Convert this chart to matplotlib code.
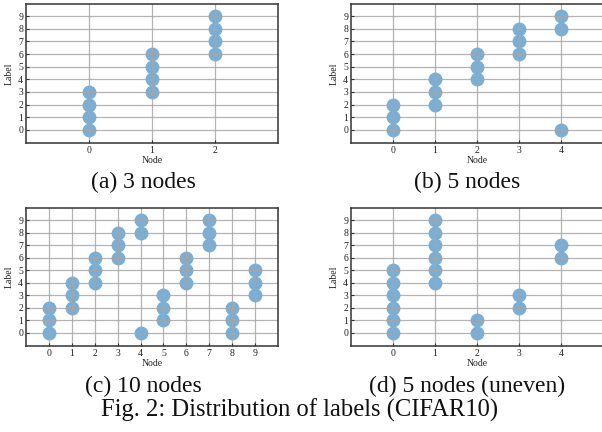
import matplotlib
matplotlib.use("Agg")
import matplotlib.pyplot as plt

plt.rcParams['font.family'] = ['Liberation Serif', 'DejaVu Serif']

# Data: node index -> list of labels held by that node
nodes_a = [0, 1, 2]
labels_a = [[0, 1, 2, 3], [3, 4, 5, 6], [6, 7, 8, 9]]

nodes_b = [0, 1, 2, 3, 4]
labels_b = [[0, 1, 2], [2, 3, 4], [4, 5, 6], [6, 7, 8], [8, 9, 0]]

nodes_c = [0, 1, 2, 3, 4, 5, 6, 7, 8, 9]
labels_c = [[0, 1, 2], [2, 3, 4], [4, 5, 6], [6, 7, 8], [8, 9, 0],
            [1, 2, 3], [4, 5, 6], [7, 8, 9], [0, 1, 2], [3, 4, 5]]

nodes_d = [0, 1, 2, 3, 4]
labels_d = [[0, 1, 2, 3, 4, 5], [4, 5, 6, 7, 8, 9], [0, 1], [2, 3], [6, 7]]

label_ticks = list(range(10))
captions = ["(a) 3 nodes", "(b) 5 nodes", "(c) 10 nodes", "(d) 5 nodes (uneven)"]
fig_title = "Fig. 2: Distribution of labels (CIFAR10)"

W, H = 602, 432
fig = plt.figure(figsize=(W / 100, H / 100), dpi=100)


def fx(px):
    return px / W


def fy(py):
    return 1 - py / H


boxes = [
    (26, 278, 4, 143),
    (351, 603, 4, 143),
    (26, 278, 208, 346),
    (351, 603, 208, 346),
]
datasets = [(nodes_a, labels_a), (nodes_b, labels_b), (nodes_c, labels_c), (nodes_d, labels_d)]

for (l, r, t, b), (nodes, labels) in zip(boxes, datasets):
    ax = fig.add_axes([fx(l), fy(b), fx(r) - fx(l), fy(t) - fy(b)])
    xs, ys = [], []
    for n, labs in zip(nodes, labels):
        for lab in labs:
            xs.append(n)
            ys.append(lab)
    ax.scatter(xs, ys, s=100, color='#7aaed4', linewidths=0, zorder=1)
    ax.set_xlim(-1, len(nodes))
    ax.set_ylim(-1.05, 9.97)
    ax.set_xticks(nodes)
    ax.set_yticks(label_ticks)
    ax.set_axisbelow(False)
    ax.grid(True, color='#a6a6a6', linewidth=0.9, alpha=0.85, zorder=2)
    ax.tick_params(direction='in', length=2.5, width=0.8, labelsize=7, pad=2, colors='#333333')
    ax.tick_params(labelcolor='#222222')
    for sp in ax.spines.values():
        sp.set_color('#333333')
        sp.set_linewidth(1.1)
        sp.set_zorder(3)
    ax.set_xlabel("Node", fontsize=7, labelpad=1, color='#222222')
    ax.set_ylabel("Label", fontsize=7, labelpad=3, color='#222222')

cap_pos = [(143, 182), (467, 182), (143, 386), (467, 386)]
for (cx, cy), txt in zip(cap_pos, captions):
    fig.text(fx(cx), fy(cy), txt, ha='center', va='center', fontsize=17, color='#111111')

fig.text(fx(300), fy(410), fig_title, ha='center', va='center', fontsize=17.7, color='#111111')

fig.savefig("out.png", dpi=100)
